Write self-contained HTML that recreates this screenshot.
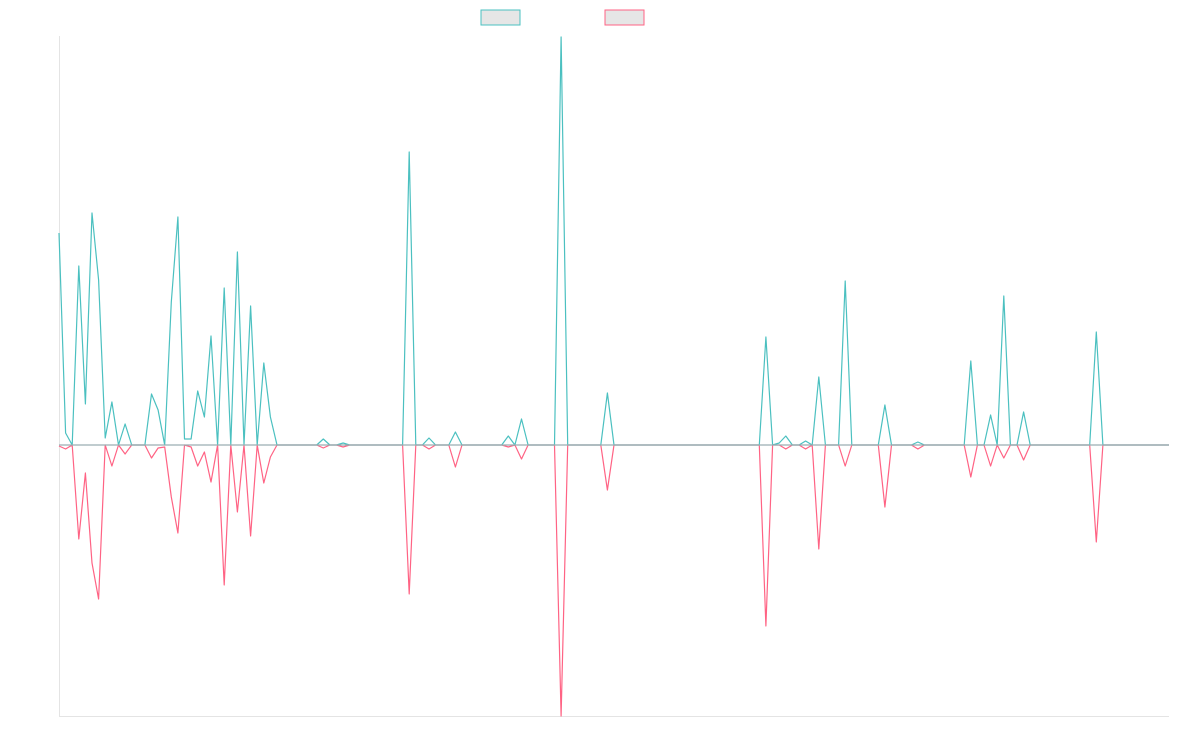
<!DOCTYPE html>
<html><head><meta charset="utf-8"><style>
html,body{margin:0;padding:0;background:#fff;}
svg{display:block;}
</style></head><body>
<svg width="1200" height="750" viewBox="0 0 1200 750" xmlns="http://www.w3.org/2000/svg">
<rect x="0" y="0" width="1200" height="750" fill="#fff"/>
<line x1="59.5" y1="36" x2="59.5" y2="716" stroke="#e4e4e4" stroke-width="1"/>
<line x1="59" y1="716.5" x2="1169" y2="716.5" stroke="#e4e4e4" stroke-width="1"/>
<rect x="481" y="10" width="39" height="15" fill="#e6e6e6" stroke="#4bc0c0" stroke-width="1"/>
<rect x="605" y="10" width="39" height="15" fill="#e6e6e6" stroke="#ff6384" stroke-width="1"/>
<polyline fill="none" stroke="#ff6384" stroke-width="1.2" stroke-linejoin="round" points="
59,446 65.6,449 72.2,445 78.8,539 85.4,473 92.0,563 98.6,599 105.2,445 111.9,466 118.5,445 125.1,454 131.7,445 138.3,445 144.9,445 151.5,458 158.1,448 164.7,447 171.3,497 177.9,533 184.5,445 191.1,447 197.7,466 204.4,452 211.0,482 217.6,445 224.2,585 230.8,445 237.4,512 244.0,445 250.6,536 257.2,445 263.8,483 270.4,457 277.0,445 283.6,445
316.7,445 323.3,448 329.9,445 336.5,445 343.1,447 349.7,445
402.6,445 409.2,594 415.8,445 422.4,445 429.0,449 435.6,445
448.8,445 455.4,467 462.0,445
501.7,445 508.3,447 514.9,445 521.5,459 528.1,445
554.5,445 561.1,716 567.7,445
600.8,445 607.4,490 614.0,445
759.3,445 765.9,626 772.6,445 779.2,445 785.8,449 792.4,445 799.0,445 805.6,449 812.2,445 818.8,549 825.4,445
838.6,445 845.2,466 851.8,445
878.3,445 884.9,507 891.5,445
911.3,445 917.9,449 924.5,445
964.2,445 970.8,477 977.4,445 984.0,445 990.6,466 997.2,445 1003.8,458 1010.4,445 1017.0,445 1023.6,460 1030.2,445
1089.7,445 1096.3,542 1102.9,445 1169,445"/>
<polyline fill="none" stroke="#4bc0c0" stroke-width="1.2" stroke-linejoin="round" points="
59,233 65.6,433 72.2,445 78.8,266 85.4,404 92.0,213 98.6,280 105.2,438 111.9,402 118.5,445 125.1,424 131.7,445 138.3,445 144.9,445 151.5,394 158.1,410 164.7,445 171.3,302 177.9,217 184.5,439 191.1,439 197.7,391 204.4,417 211.0,336 217.6,445 224.2,288 230.8,445 237.4,252 244.0,445 250.6,306 257.2,445 263.8,363 270.4,417 277.0,445 283.6,445
316.7,445 323.3,439 329.9,445 336.5,445 343.1,443 349.7,445
402.6,445 409.2,152 415.8,445 422.4,445 429.0,438 435.6,445
448.8,445 455.4,432 462.0,445
501.7,445 508.3,436 514.9,445 521.5,419 528.1,445
554.5,445 561.1,37 567.7,445
600.8,445 607.4,393 614.0,445
759.3,445 765.9,337 772.6,445 779.2,443 785.8,436 792.4,445 799.0,445 805.6,441 812.2,445 818.8,377 825.4,445
838.6,445 845.2,281 851.8,445
878.3,445 884.9,405 891.5,445
911.3,445 917.9,442 924.5,445
964.2,445 970.8,361 977.4,445 984.0,445 990.6,415 997.2,445 1003.8,296 1010.4,445 1017.0,445 1023.6,412 1030.2,445
1089.7,445 1096.3,332 1102.9,445 1169,445"/>
<line x1="59" y1="445" x2="1169" y2="445" stroke="#9aaeb2" stroke-width="1.3"/>
</svg>
</body></html>
